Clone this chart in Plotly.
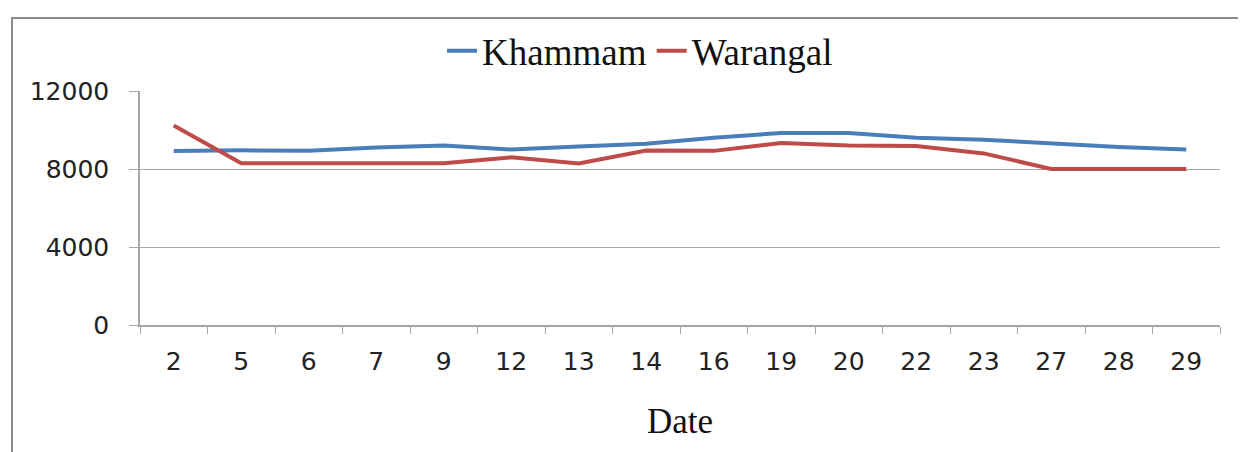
import plotly.graph_objects as go

dates = ["2", "5", "6", "7", "9", "12", "13", "14", "16", "19", "20", "22", "23", "27", "28", "29"]
khammam = [8920, 8960, 8930, 9100, 9200, 9000, 9150, 9300, 9600, 9850, 9850, 9600, 9500, 9300, 9130, 9000]
warangal = [10230, 8300, 8300, 8300, 8300, 8600, 8280, 8950, 8930, 9330, 9200, 9180, 8800, 8000, 8000, 8000]
y_ticks = [0, 4000, 8000, 12000]

fig = go.Figure()
fig.add_trace(go.Scatter(x=dates, y=khammam, mode="lines", name="Khammam",
                         line=dict(color="#4a7ebb", width=4)))
fig.add_trace(go.Scatter(x=dates, y=warangal, mode="lines", name="Warangal",
                         line=dict(color="#be4b48", width=4)))

grey = "#a6a6a6"
fig.update_layout(
    width=1238, height=444,
    margin=dict(l=132, r=26, t=80, b=127),
    plot_bgcolor="white", paper_bgcolor="white",
    showlegend=True,
    legend=dict(orientation="h", x=0.463, xanchor="center", y=1.17, yanchor="middle",
                font=dict(family="Liberation Serif", size=37, color="#111"),
                bgcolor="rgba(0,0,0,0)", itemwidth=30, tracegroupgap=0),
    xaxis=dict(type="category", range=[-0.5, len(dates) - 0.5],
               tickson="boundaries", ticks="outside", ticklen=7, tickcolor=grey,
               showline=True, linecolor=grey, linewidth=1.5, showgrid=False,
               tickfont=dict(family="DejaVu Sans", size=25, color="#222"),
               ticklabelstandoff=13,
               title=dict(text="Date", font=dict(family="Liberation Serif", size=35, color="#111"),
                          standoff=34)),
    yaxis=dict(range=[0, 12000], tickvals=y_ticks, ticktext=[str(v) for v in y_ticks],
               ticks="outside", ticklen=9, tickcolor=grey,
               showline=True, linecolor=grey, linewidth=1.5,
               showgrid=True, gridcolor=grey, gridwidth=1.2, zeroline=False,
               tickfont=dict(family="DejaVu Sans", size=25, color="#222"),
               ticklabelstandoff=15),
    shapes=[dict(type="rect", xref="paper", yref="paper",
                 x0=(12 - 140) / 1080, x1=(1260 - 140) / 1080,
                 y0=(325 - 470) / 237, y1=(325 - 14) / 237,
                 line=dict(color="#8c8c8c", width=2), layer="below")],
)

fig.write_html("out.html")
